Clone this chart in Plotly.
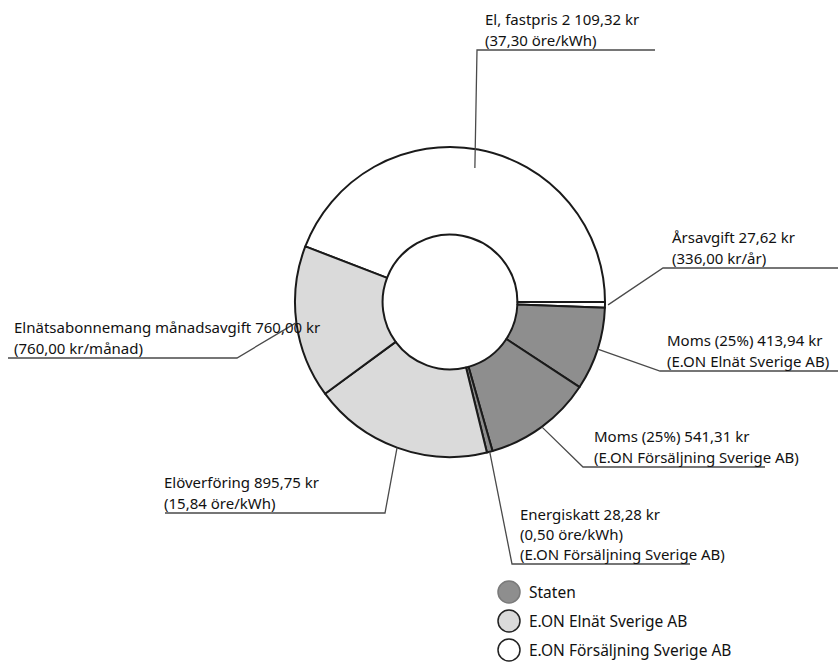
import plotly.graph_objects as go
import math

# ---------------- data ----------------
names = ["El, fastpris", "Årsavgift", "Moms (25%)", "Moms (25%)",
         "Energiskatt", "Elöverföring", "Elnätsabonnemang månadsavgift"]
amounts = [2109.32, 27.62, 413.94, 541.31, 28.28, 895.75, 760.00]
details = [["(37,30 öre/kWh)"],
           ["(336,00 kr/år)"],
           ["(E.ON Elnät Sverige AB)"],
           ["(E.ON Försäljning Sverige AB)"],
           ["(0,50 öre/kWh)", "(E.ON Försäljning Sverige AB)"],
           ["(15,84 öre/kWh)"],
           ["(760,00 kr/månad)"]]
owners = ["E.ON Försäljning Sverige AB", "E.ON Försäljning Sverige AB", "Staten",
          "Staten", "Staten", "E.ON Elnät Sverige AB", "E.ON Elnät Sverige AB"]
legend_items = ["Staten", "E.ON Elnät Sverige AB", "E.ON Försäljning Sverige AB"]

# ---------------- style / layout ----------------
W, H = 838, 662
CX, CY, R = 450, 302, 155
HOLE = 0.435
owner_fill = {"Staten": "#8e8e8e", "E.ON Elnät Sverige AB": "#dadada",
              "E.ON Försäljning Sverige AB": "#ffffff"}
owner_edge = {"Staten": "#7a7a7a", "E.ON Elnät Sverige AB": "#222222",
              "E.ON Försäljning Sverige AB": "#222222"}
FONT = "Noto Sans"
FS = 15
TXT = "#111111"
# per-label placement: radial factor of leader start, elbow point, underline end x, text x
place = [
    dict(rf=0.88, elbow=(477, 50), end=655, tx=483),
    dict(rf=1.02, elbow=(663, 268), end=838, tx=670),
    dict(rf=1.00, elbow=(660, 371), end=838, tx=665),
    dict(rf=1.00, elbow=(583, 467), end=765, tx=592),
    dict(rf=1.00, elbow=(512, 564), end=690, tx=518),
    dict(rf=1.00, elbow=(385, 513), end=165, tx=162),
    dict(rf=1.00, elbow=(237, 358), end=8, tx=12),
]
legend_y0, legend_dy = 592, 29
legend_cx, legend_tx, legend_r = 509, 527, 11


def px(x):
    return x / W


def py(y):
    return 1 - y / H


def kr(v):
    s = f"{v:,.2f}".replace(",", " ").replace(".", ",")
    return s + " kr"


total = sum(amounts)
rotation = 90 - 360 * amounts[0] / total

fig = go.Figure(go.Pie(
    values=amounts,
    labels=[f"{n} {i}" for i, n in enumerate(names)],
    sort=False,
    direction="clockwise",
    rotation=rotation,
    hole=HOLE,
    textinfo="none",
    hoverinfo="label+value",
    marker=dict(colors=[owner_fill[o] for o in owners],
                line=dict(color="#1a1a1a", width=2)),
    domain=dict(x=[px(CX - R), px(CX + R)], y=[py(CY + R), py(CY - R)]),
    showlegend=False,
))

shapes = []
annotations = []
cum = 0.0
for i, v in enumerate(amounts):
    mid = rotation + 360 * (cum + v / 2) / total
    cum += v
    p = place[i]
    a = math.radians(mid)
    sx = CX + R * p["rf"] * math.sin(a)
    sy = CY - R * p["rf"] * math.cos(a)
    ex, ey = p["elbow"]
    path = f"M {px(sx)} {py(sy)} L {px(ex)} {py(ey)} L {px(p['end'])} {py(ey)}"
    shapes.append(dict(type="path", path=path, xref="paper", yref="paper",
                       line=dict(color="#4a4a4a", width=1.3)))
    lines = [f"{names[i]} {kr(v)}"] + details[i]
    n = len(lines)
    sp = 20 if n > 2 else 21
    for j, t in enumerate(lines):
        yy = ey - 10 - (n - 1 - j) * sp
        annotations.append(dict(text=t, x=px(p["tx"]), y=py(yy), xref="paper", yref="paper",
                                xanchor="left", yanchor="middle", showarrow=False,
                                font=dict(family=FONT, size=FS, color=TXT)))

for k, name in enumerate(legend_items):
    yc = legend_y0 + k * legend_dy
    shapes.append(dict(type="circle", xref="paper", yref="paper",
                       x0=px(legend_cx - legend_r), x1=px(legend_cx + legend_r),
                       y0=py(yc + legend_r), y1=py(yc - legend_r),
                       fillcolor=owner_fill[name],
                       line=dict(color=owner_edge[name], width=1.5)))
    annotations.append(dict(text=name, x=px(legend_tx), y=py(yc), xref="paper", yref="paper",
                            xanchor="left", yanchor="middle", showarrow=False,
                            font=dict(family=FONT, size=FS + 0.5, color=TXT)))

fig.update_layout(
    width=W, height=H,
    margin=dict(l=0, r=0, t=0, b=0),
    paper_bgcolor="white", plot_bgcolor="white",
    shapes=shapes, annotations=annotations,
)
fig.write_html("out.html")
